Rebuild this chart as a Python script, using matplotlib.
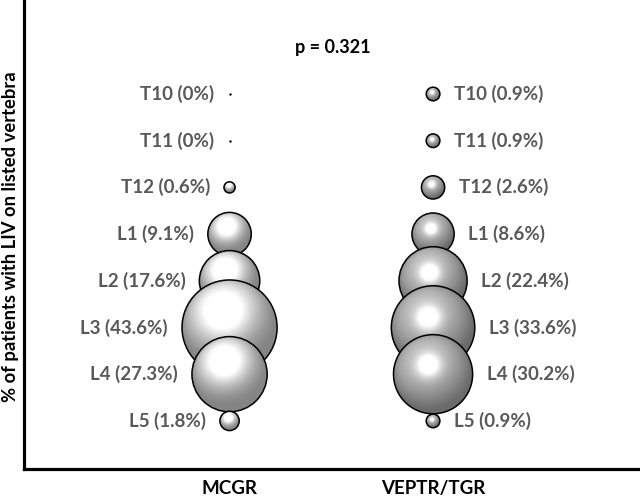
import numpy as np
import matplotlib.pyplot as plt
from matplotlib.patches import Ellipse

groups = ['MCGR', 'VEPTR/TGR']
levels = ['T10', 'T11', 'T12', 'L1', 'L2', 'L3', 'L4', 'L5']
mcgr = [0, 0, 0.6, 9.1, 17.6, 43.6, 27.3, 1.8]
veptr = [0.9, 0.9, 2.6, 8.6, 22.4, 33.6, 30.2, 0.9]
p_text = 'p = 0.321'

FONT = 'Lato'
GRAY = '#595959'


def sphere_img(dark, light, hx, hy, spec_amt, spec_pow, gam, n=160):
    u = np.linspace(-1, 1, n)
    X, Y = np.meshgrid(u, u)
    rr = X**2 + Y**2
    Z = np.sqrt(np.clip(1 - rr, 0, 1))
    L = np.array([hx, hy, 1.0])
    L = L / np.linalg.norm(L)
    dif = np.clip(X * L[0] + Y * L[1] + Z * L[2], 0, 1)
    H = L + np.array([0, 0, 1.0])
    H = H / np.linalg.norm(H)
    spec = np.clip(X * H[0] + Y * H[1] + Z * H[2], 0, 1) ** spec_pow
    f = np.clip(dif ** gam * light + spec * spec_amt, 0, 1)
    c = dark + (1 - dark) * f
    img = np.dstack([c, c, c, np.ones_like(c)])
    return img


fig = plt.figure(figsize=(6.4, 5), dpi=100)
ax = fig.add_axes([24 / 640, 31 / 500, 614 / 640, 469 / 500])
ax.set_xlim(-1.01, 2.007)
ax.set_ylim(-8.03, 2.013)
for s in ['top', 'right']:
    ax.spines[s].set_visible(False)
for s in ['left', 'bottom']:
    ax.spines[s].set_linewidth(2.3)
    ax.spines[s].set_color('black')
ax.set_yticks([])
ax.set_xticks([0, 1])
ax.set_xticklabels(groups, fontfamily=FONT, fontweight='bold', fontsize=13.5, color='black')
ax.tick_params(axis='x', length=0, pad=8)
ax.get_xticklabels()[1].set_x(1.04)

bb = ax.get_window_extent()
ppx = bb.width / (2.007 + 1.01)
ppy = bb.height / (2.013 + 8.03)
k = 14.4  # diameter in px per sqrt(%)

styles = [
    dict(dark=0.52, light=1.0, hx=-0.25, hy=0.6, spec_amt=0.5, spec_pow=10, gam=2.2, side=-1),
    dict(dark=0.42, light=0.62, hx=-0.25, hy=0.5, spec_amt=0.75, spec_pow=22, gam=1.5, side=1),
]

for gi, vals in enumerate([mcgr, veptr]):
    st = styles[gi]
    img = sphere_img(st['dark'], st['light'], st['hx'], st['hy'],
                     st['spec_amt'], st['spec_pow'], st['gam'])
    for i, (lev, v) in enumerate(zip(levels, vals)):
        y = -i
        d = k * np.sqrt(v)
        if d < 1:
            ax.scatter([gi], [y], s=3, color='black', zorder=10 + i, lw=0)
            r_pt = 1
        else:
            w, h = d / ppx, d / ppy
            clip = Ellipse((gi, y), w, h, transform=ax.transData, facecolor='none', edgecolor='none')
            ax.add_patch(clip)
            im = ax.imshow(img, extent=[gi - w / 2, gi + w / 2, y - h / 2, y + h / 2],
                           origin='lower', aspect='auto', interpolation='bilinear', zorder=10 + i)
            im.set_clip_path(clip)
            ax.add_patch(Ellipse((gi, y), w, h, facecolor='none', edgecolor='black',
                                 lw=1.1, zorder=10.5 + i))
            r_pt = d / 2 * 0.72
        ax.annotate(f'{lev} ({v:g}%)', (gi, y), xytext=(st['side'] * (r_pt + 10), 0),
                    textcoords='offset points', ha='right' if st['side'] < 0 else 'left',
                    va='center', fontfamily=FONT, fontweight='bold', fontsize=13.5, color=GRAY,
                    zorder=30)

ax.set_xlim(-1.01, 2.007)
ax.set_ylim(-8.03, 2.013)

fig.text(333 / 640, 1 - 48 / 500, p_text, ha='center', va='center',
         fontfamily=FONT, fontweight='bold', fontsize=13, color='black')
fig.text(11 / 640, 1 - 237 / 500, '% of patients with LIV on listed vertebra', rotation=90,
         ha='center', va='center', fontfamily=FONT, fontweight='bold', fontsize=13.2, color='black')

fig.savefig('out.png', dpi=100)
